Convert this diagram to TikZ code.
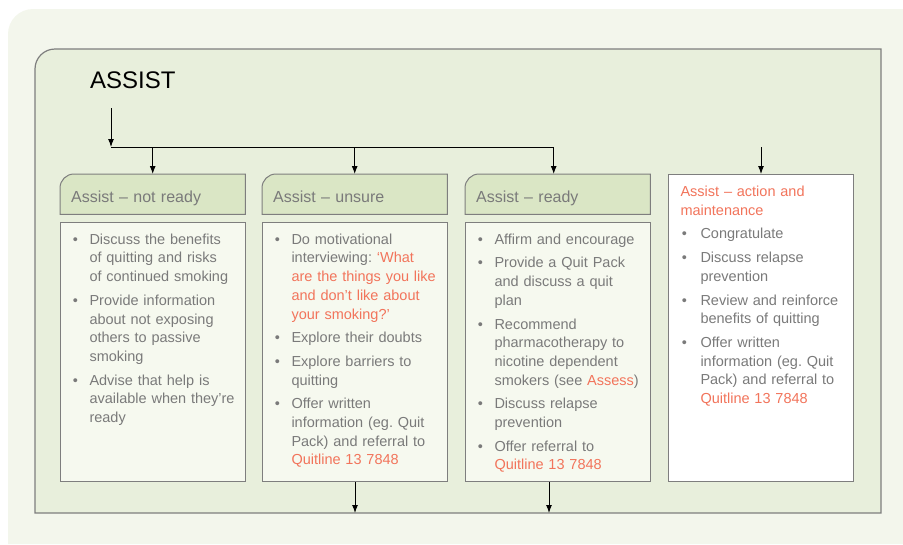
\documentclass[tikz,border=0pt]{standalone}
\usepackage{fontspec}
\setmainfont{Liberation Sans}
\usepackage{enumitem}
\usetikzlibrary{arrows.meta,backgrounds}

\definecolor{pagebg}{HTML}{F3F6EC}
\definecolor{panelbg}{HTML}{E8EFDC}
\definecolor{headbg}{HTML}{DAE6C5}
\definecolor{bodybg}{HTML}{F6F9EF}
\definecolor{rulegray}{HTML}{7E7E7E}
\definecolor{txtgray}{HTML}{7A7A7A}
\definecolor{hot}{HTML}{F2745B}

\newcommand{\hot}[1]{\textcolor{hot}{#1}}
\frenchspacing
\setlist[itemize]{label=\textbullet,leftmargin=29pt,labelsep=11.5pt,itemsep=5pt,parsep=0pt,topsep=3pt,partopsep=0pt}

\tikzset{
  hd/.style={anchor=north west,minimum width=185pt,minimum height=40pt,inner xsep=11pt,text width=163pt,align=left,text height=16pt,text depth=0pt,font=\fontsize{16}{19}\selectfont,text=txtgray},
  bd/.style={anchor=north west,draw=rulegray,fill=bodybg,line width=1pt,inner sep=0pt,text width=185pt,align=left,text height=0pt,text depth=259pt,font=\fontsize{14.5}{18.7}\selectfont,text=txtgray},
  arr/.style={-{Latex[length=8pt,width=6pt]},line width=1pt}
}

\begin{document}
\begin{tikzpicture}[x=1pt,y=-1pt]
\useasboundingbox (0,0) rectangle (903,544);

\node[anchor=base west,inner sep=0pt,font=\fontsize{24}{28}\selectfont] (title) at (90,88) {ASSIST};

% stage headers
\node[hd] (hd1) at (60,174) {Assist – not ready};
\node[hd] (hd2) at (262,174) {Assist – unsure};
\node[hd] (hd3) at (465,174) {Assist – ready};

% stage lists
\node[bd] (bd1) at (60,222) {\begin{itemize}
  \item Discuss the benefits\newline of quitting and risks\newline of continued smoking
  \item Provide information\newline about not exposing\newline others to passive\newline smoking
  \item Advise that help is\newline available when they’re\newline ready
\end{itemize}};
\node[bd] (bd2) at (262,222) {\begin{itemize}
  \item Do motivational\newline interviewing: \hot{‘What\newline are the things you like\newline and don’t like about\newline your smoking?’}
  \item Explore their doubts
  \item Explore barriers to\newline quitting
  \item Offer written\newline information (eg. Quit\newline Pack) and referral to\newline \hot{Quitline 13 7848}
\end{itemize}};
\node[bd] (bd3) at (465,222) {\begin{itemize}
  \item Affirm and encourage
  \item Provide a Quit Pack\newline and discuss a quit\newline plan
  \item Recommend\newline pharmacotherapy to\newline nicotine dependent\newline smokers (see \hot{Assess})
  \item Discuss relapse\newline prevention
  \item Offer referral to\newline \hot{Quitline 13 7848}
\end{itemize}};
\node[bd,fill=white,inner xsep=12pt,text width=161pt,text height=22pt,text depth=285pt] (act) at (668,174) {\hot{Assist – action and\newline maintenance}
\begin{itemize}[leftmargin=20pt,labelsep=13.5pt,topsep=5pt]
  \item Congratulate
  \item Discuss relapse\newline prevention
  \item Review and reinforce\newline benefits of quitting
  \item Offer written\newline information (eg. Quit\newline Pack) and referral to\newline \hot{Quitline 13 7848}
\end{itemize}};

% connectors
\coordinate (drop) at (111,108);
\coordinate (fork) at (111,147);
\coordinate (floor) at (0,513);
\coordinate (in3) at ([xshift=-4pt]hd3.north);
\coordinate (out3) at ([xshift=-9pt]bd3.south);
\draw[arr] (drop) -- (fork);
\draw[line width=1pt] (fork) -- (fork -| in3);
\draw[arr] (fork -| hd1.north) -- (hd1.north);
\draw[arr] (fork -| hd2.north) -- (hd2.north);
\draw[arr] (fork -| in3) -- (in3);
\draw[arr] (fork -| act.north) -- (act.north);
\draw[arr] (bd2.south) -- (bd2.south |- floor);
\draw[arr] (out3) -- (out3 |- floor);

\begin{scope}[on background layer]
  \fill[pagebg] (8,544) -- (8,34) arc[start angle=180,end angle=90,radius=25pt] -- (903,9) -- (903,544) -- cycle;
  \filldraw[fill=panelbg,draw=rulegray,line width=1.2pt] (35,513) -- (35,69) arc[start angle=180,end angle=90,radius=20pt] -- (881,49) -- (881,513) -- cycle;
  \foreach \h in {hd1,hd2,hd3}
    \filldraw[fill=headbg,draw=rulegray,line width=1pt] (\h.south west) -- ([yshift=-14pt]\h.north west) arc[start angle=180,end angle=90,radius=14pt] -- (\h.north east) -- (\h.south east) -- cycle;
\end{scope}
\end{tikzpicture}
\end{document}
